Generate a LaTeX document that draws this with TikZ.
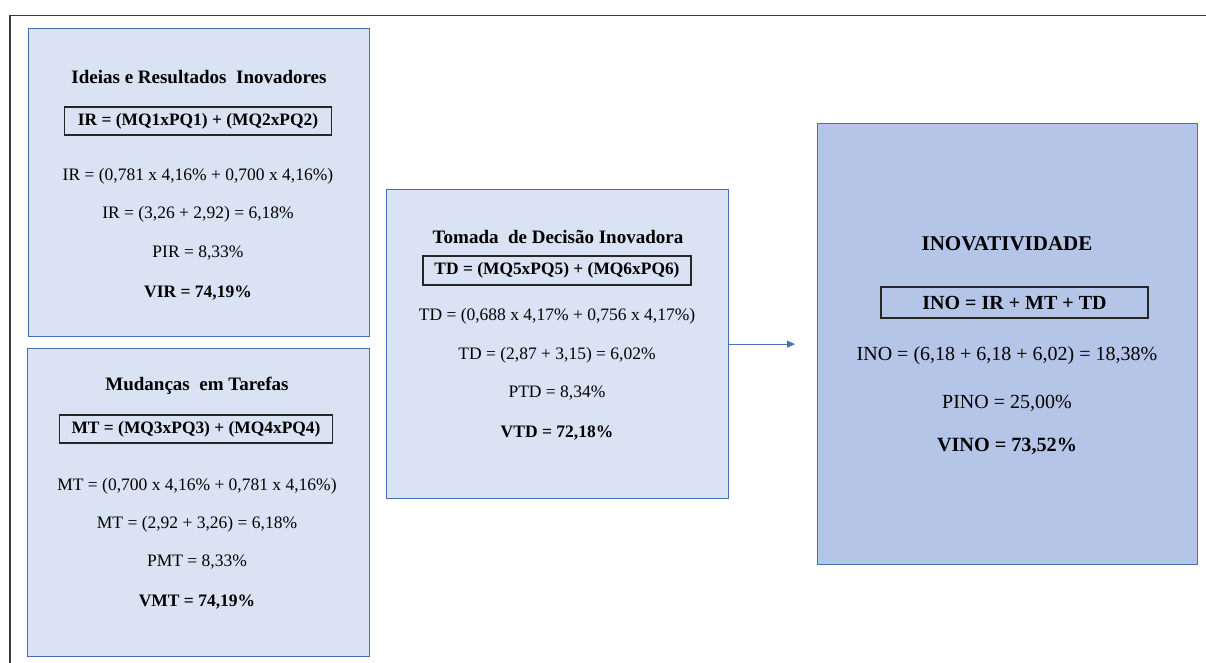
\documentclass[tikz,border=0pt]{standalone}
\usepackage{fontspec}
\setmainfont{Liberation Serif}
\usetikzlibrary{arrows.meta}
\definecolor{panelfill}{HTML}{DAE3F3}
\definecolor{mainfill}{HTML}{B4C5E7}
\definecolor{panelline}{HTML}{4A6FB5}
\definecolor{frameline}{HTML}{3A3A3A}
\tikzset{
  panel/.style={draw=panelline, line width=1.3pt, fill=panelfill, anchor=north west, inner sep=0pt},
  mainpanel/.style={panel, fill=mainfill},
  formula/.style={draw=black!85, line width=1.3pt, inner sep=0pt, font=\fontsize{17.4}{20}\selectfont\bfseries},
  ttl/.style={font=\fontsize{19}{22}\selectfont\bfseries, inner sep=0pt},
  calc/.style={font=\fontsize{17.5}{20}\selectfont, inner sep=0pt},
  res/.style={font=\fontsize{17.5}{20}\selectfont\bfseries, inner sep=0pt},
  bigttl/.style={font=\fontsize{21}{25}\selectfont\bfseries, inner sep=0pt},
  bigcalc/.style={font=\fontsize{20}{24}\selectfont, inner sep=0pt},
  bigres/.style={font=\fontsize{20.2}{24}\selectfont\bfseries, inner sep=0pt},
  link/.style={draw=panelline, line width=0.8pt, -{Triangle[length=8pt,width=7pt]}},
}
\begin{document}
\begin{tikzpicture}[x=1pt,y=-1pt]
\useasboundingbox (0,0) rectangle (1206,663);
% outer frame (top and left edges)
\draw[frameline, line width=1.8pt] (10,663) -- (10,15.5) -- (1206,15.5);

% panels
\node[panel, minimum width=341pt, minimum height=308pt] (ir) at (28,28) {};
\node[panel, minimum width=342pt, minimum height=308pt] (mt) at (27,348) {};
\node[panel, minimum width=342pt, minimum height=309pt] (td) at (386,189) {};
\node[mainpanel, minimum width=380pt, minimum height=441pt] (ino) at (817,123) {};

% Ideias e Resultados Inovadores
\node[ttl] (irT) at (199,77) {Ideias e Resultados\ \ Inovadores};
\node[formula, minimum width=267pt, minimum height=28pt] (irF) at (198,121) {IR = (MQ1xPQ1) + (MQ2xPQ2)};
\node[calc] (ir1) at (198,176) {IR = (0,781 x 4,16\% + 0,700 x 4,16\%)};
\node[calc] (ir2) at (198,214) {IR = (3,26 + 2,92) = 6,18\%};
\node[calc] (ir3) at (198,253) {PIR = 8,33\%};
\node[res] (ir4) at (198,293) {VIR = 74,19\%};

% Mudancas em Tarefas
\node[ttl] (mtT) at (197,386) {Mudanças\ \ em Tarefas};
\node[formula, minimum width=273pt, minimum height=28pt] (mtF) at (196,429) {MT = (MQ3xPQ3) + (MQ4xPQ4)};
\node[calc] (mt1) at (197,486) {MT = (0,700 x 4,16\% + 0,781 x 4,16\%)};
\node[calc] (mt2) at (197,524) {MT = (2,92 + 3,26) = 6,18\%};
\node[calc] (mt3) at (197,562) {PMT = 8,33\%};
\node[res] (mt4) at (197,602) {VMT = 74,19\%};

% Tomada de Decisao Inovadora
\node[ttl] (tdT) at (558,237) {Tomada\ \ de Decisão Inovadora};
\node[formula, minimum width=268pt, minimum height=29pt] (tdF) at (557,270.5) {TD = (MQ5xPQ5) + (MQ6xPQ6)};
\node[calc] (td1) at (557,316) {TD = (0,688 x 4,17\% + 0,756 x 4,17\%)};
\node[calc] (td2) at (557,355) {TD = (2,87 + 3,15) = 6,02\%};
\node[calc] (td3) at (557,393) {PTD = 8,34\%};
\node[res] (td4) at (557,433) {VTD = 72,18\%};

% Inovatividade
\node[bigttl] (inoT) at (1007,244) {INOVATIVIDADE};
\node[formula, font=\fontsize{20}{24}\selectfont\bfseries, minimum width=267pt, minimum height=31pt] (inoF) at (1014.5,302.5) {INO = IR + MT + TD};
\node[bigcalc] (ino1) at (1007,356) {INO = (6,18 + 6,18 + 6,02) = 18,38\%};
\node[bigcalc] (ino2) at (1007,403) {PINO = 25,00\%};
\node[bigres] (ino3) at (1007,446) {VINO = 73,52\%};

% connector
\draw[link, shorten >=22pt] (td) -- (ino);
\end{tikzpicture}
\end{document}
